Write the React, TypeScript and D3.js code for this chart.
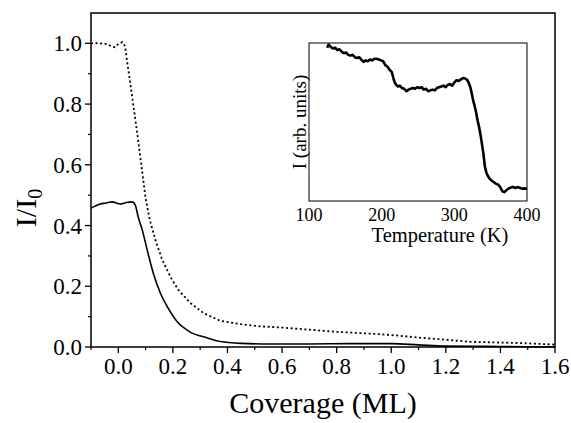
import React from 'react';
import * as d3 from 'd3';

// main panel: normalised intensity vs coverage
const coverage = [-0.1, -0.085, -0.07, -0.055, -0.04, -0.025, -0.012, 0.0, 0.015, 0.025, 0.03, 0.05, 0.07, 0.09, 0.1, 0.115, 0.136, 0.161, 0.191, 0.22, 0.264, 0.312, 0.374, 0.45, 0.52, 0.6, 0.7, 0.8, 0.9, 0.96, 1.02, 1.1, 1.2, 1.29, 1.38, 1.47, 1.55, 1.6];
const dotted = [1.0, 1.002, 0.999, 1.0, 0.997, 0.99, 0.987, 0.998, 1.004, 0.99, 0.955, 0.83, 0.7, 0.56, 0.49, 0.42, 0.352, 0.287, 0.231, 0.188, 0.145, 0.112, 0.086, 0.075, 0.068, 0.064, 0.057, 0.05, 0.045, 0.042, 0.038, 0.031, 0.024, 0.017, 0.015, 0.013, 0.01, 0.008];

const coverageSolid = [-0.1, -0.085, -0.066, -0.045, -0.022, 0.007, 0.03, 0.051, 0.062, 0.073, 0.088, 0.106, 0.128, 0.154, 0.18, 0.217, 0.264, 0.327, 0.374, 0.45, 0.55, 0.7, 0.85, 1.0, 1.1, 1.2, 1.35, 1.5, 1.6];
const solid = [0.458, 0.464, 0.471, 0.474, 0.478, 0.471, 0.476, 0.478, 0.468, 0.428, 0.385, 0.319, 0.244, 0.178, 0.132, 0.082, 0.049, 0.03, 0.018, 0.012, 0.01, 0.01, 0.011, 0.011, 0.007, 0.003, 0.002, 0.001, 0.0];

const xMajor = [0.0, 0.2, 0.4, 0.6, 0.8, 1.0, 1.2, 1.4, 1.6];
const xMinor = [-0.1, 0.1, 0.3, 0.5, 0.7, 0.9, 1.1, 1.3, 1.5];
const yMajor = [0.0, 0.2, 0.4, 0.6, 0.8, 1.0];
const yMinor = [0.1, 0.3, 0.5, 0.7, 0.9];

// inset: intensity vs temperature
const temperature = [125, 127, 130, 133, 136, 139, 142, 145, 148, 151, 154, 157, 160, 163, 166, 169, 172, 175, 178, 181, 184, 187, 190, 193, 196, 199, 202, 205, 208, 211, 214, 216, 218, 220, 222, 225, 228, 231, 234, 237, 240, 243, 246, 249, 252, 255, 258, 261, 264, 267, 270, 273, 276, 279, 282, 285, 288, 291, 294, 297, 300, 303, 306, 309, 312, 315, 318, 320, 322, 324, 326, 328, 330, 332, 334, 336, 338, 340, 342, 344, 346, 348, 351, 354, 357, 360, 363, 366, 369, 372, 375, 378, 381, 384, 387, 390, 393, 396, 400];
const intensity = [0.97, 0.99, 0.975, 0.965, 0.97, 0.955, 0.96, 0.945, 0.935, 0.94, 0.925, 0.92, 0.925, 0.91, 0.905, 0.91, 0.895, 0.88, 0.89, 0.885, 0.895, 0.89, 0.9, 0.9, 0.895, 0.89, 0.885, 0.86, 0.85, 0.83, 0.815, 0.78, 0.75, 0.735, 0.725, 0.73, 0.715, 0.71, 0.695, 0.705, 0.71, 0.715, 0.71, 0.72, 0.715, 0.72, 0.705, 0.71, 0.695, 0.7, 0.705, 0.7, 0.715, 0.72, 0.725, 0.73, 0.72, 0.735, 0.74, 0.73, 0.75, 0.765, 0.76, 0.77, 0.778, 0.775, 0.765, 0.745, 0.72, 0.68, 0.635, 0.6, 0.56, 0.51, 0.47, 0.42, 0.36, 0.3, 0.22, 0.18, 0.16, 0.145, 0.13, 0.12, 0.11, 0.105, 0.09, 0.062, 0.056, 0.07, 0.08, 0.085, 0.09, 0.082, 0.088, 0.084, 0.078, 0.08, 0.078];
const tTicks = [100, 200, 300, 400];

const FONT = "Liberation Serif, Times New Roman, Times, Tinos, Nimbus Roman, FreeSerif, Noto Serif, DejaVu Serif, serif";

export default function App() {
  const x = d3.scaleLinear().domain([-0.1, 1.6]).range([91, 555]);
  const y = d3.scaleLinear().domain([0, 1.1]).range([347, 13]);

  const tx = d3.scaleLinear().domain([100, 400]).range([309, 527]);
  const ty = d3.scaleLinear().domain([0, 1]).range([201, 43]);

  const lineDot = d3.line<number>().x((d, i) => x(coverage[i])).y(d => y(d));
  const lineSolid = d3.line<number>().x((d, i) => x(coverageSolid[i])).y(d => y(d)).curve(d3.curveMonotoneX);
  const lineInset = d3.line<number>().x((d, i) => tx(temperature[i])).y(d => ty(d));

  const [x0, x1] = x.range();
  const [yb, yt] = y.range();
  const fmt = d3.format('.1f');

  return (
    <svg width={571} height={423} fontFamily={FONT} style={{ position: 'absolute', left: 0, top: 0, background: '#fff' }}>
      {/* main frame */}
      <rect x={x0} y={yt} width={x1 - x0} height={yb - yt} fill="none" stroke="#000" strokeWidth={1.5} />

      {yMajor.map(v => (
        <g key={'ym' + v}>
          <line x1={x0 - 6} x2={x0} y1={y(v)} y2={y(v)} stroke="#000" strokeWidth={1.3} />
          <text x={x0 - 9} y={y(v)} dy="0.35em" textAnchor="end" fontSize={23}>{fmt(v)}</text>
        </g>
      ))}
      {yMinor.map(v => (
        <line key={'yn' + v} x1={x0 - 3} x2={x0} y1={y(v)} y2={y(v)} stroke="#000" strokeWidth={1.2} />
      ))}

      {xMajor.map(v => (
        <g key={'xm' + v}>
          <line x1={x(v)} x2={x(v)} y1={yb} y2={yb + 6} stroke="#000" strokeWidth={1.3} />
          <text x={x(v)} y={374} textAnchor="middle" fontSize={23}>{fmt(v)}</text>
        </g>
      ))}
      {xMinor.map(v => (
        <line key={'xn' + v} x1={x(v)} x2={x(v)} y1={yb} y2={yb + 3} stroke="#000" strokeWidth={1.2} />
      ))}

      <text x={(x0 + x1) / 2} y={413} textAnchor="middle" fontSize={30}>Coverage (ML)</text>
      <text transform="translate(36,208) rotate(-90)" textAnchor="middle" fontSize={30}>
        I/I<tspan dy={6} fontSize={20}>0</tspan>
      </text>

      <path d={lineDot(dotted) || ''} fill="none" stroke="#000" strokeWidth={1.8} strokeDasharray="2,2.6" />
      <path d={lineSolid(solid) || ''} fill="none" stroke="#000" strokeWidth={1.6} />

      {/* inset */}
      <rect x={tx(100)} y={ty(1)} width={tx(400) - tx(100)} height={ty(0) - ty(1)} fill="#fff" stroke="#000" strokeWidth={1} />
      <path d={lineInset(intensity) || ''} fill="none" stroke="#000" strokeWidth={2.6} strokeLinejoin="round" />
      {tTicks.map(t => (
        <text key={'t' + t} x={tx(t)} y={221} textAnchor="middle" fontSize={18}>{t}</text>
      ))}
      <text x={440} y={242} textAnchor="middle" fontSize={20.5}>Temperature (K)</text>
      <text transform="translate(306,122) rotate(-90)" textAnchor="middle" fontSize={19}>I (arb. units)</text>
    </svg>
  );
}
